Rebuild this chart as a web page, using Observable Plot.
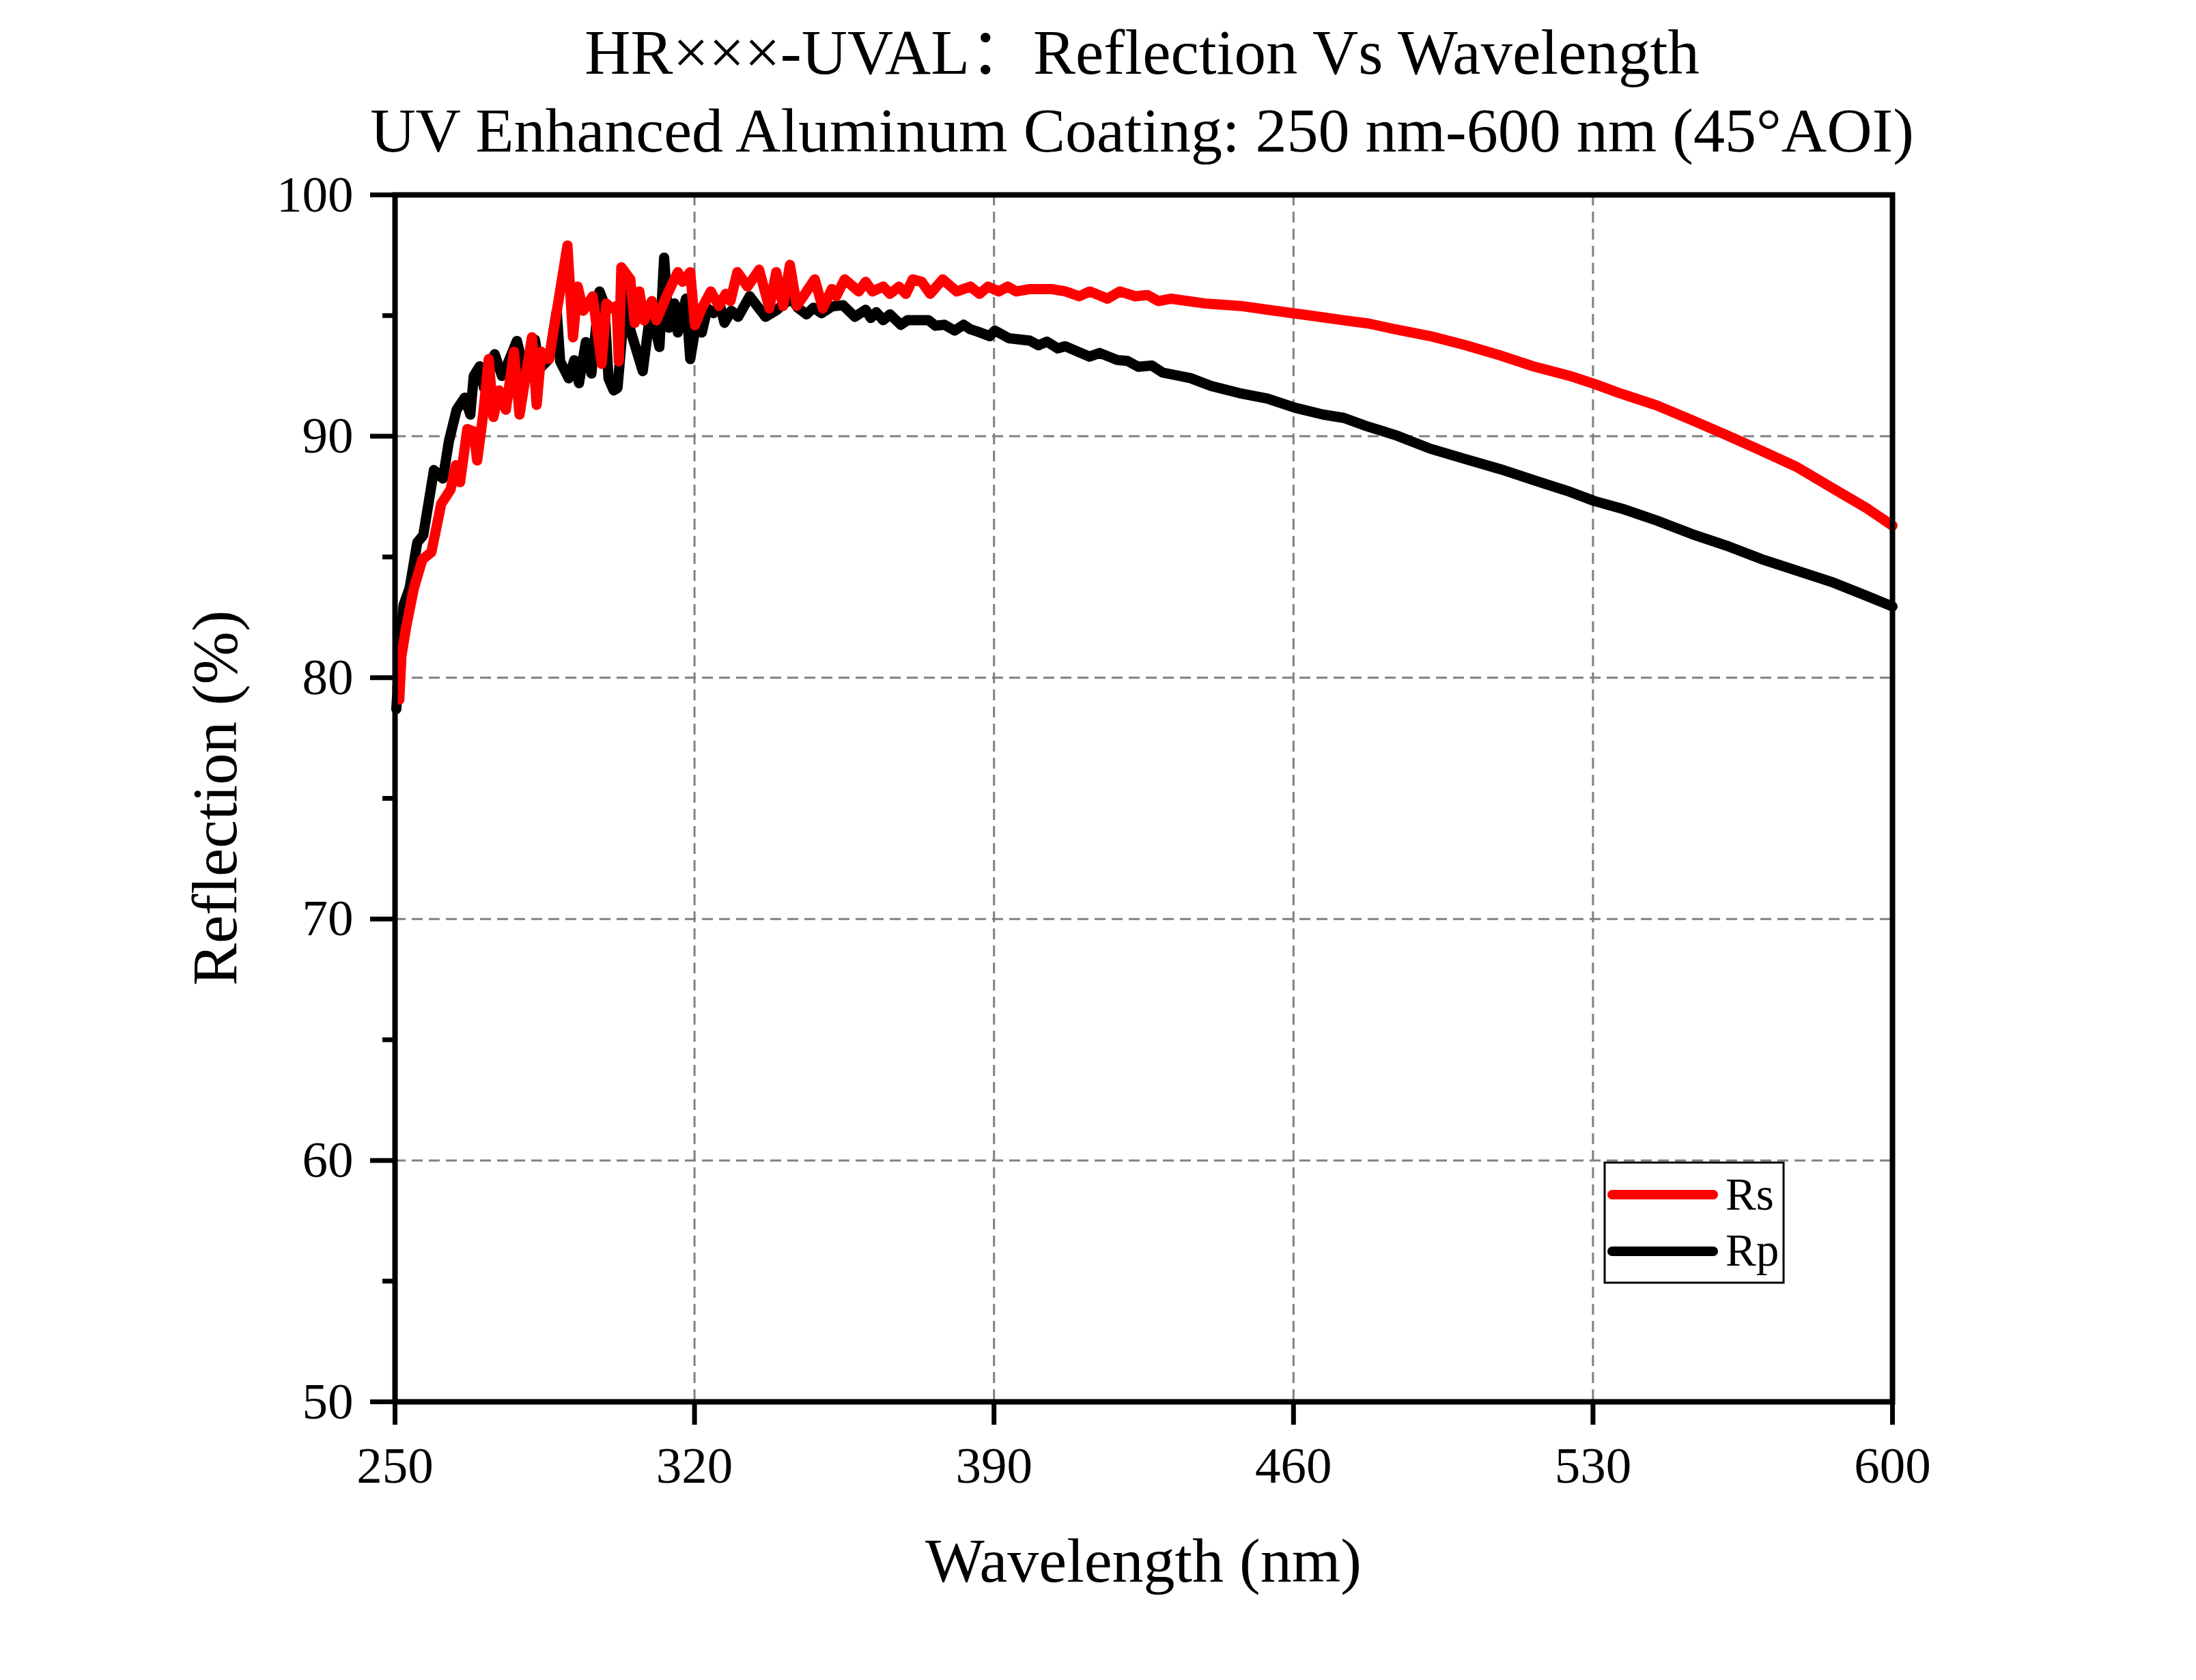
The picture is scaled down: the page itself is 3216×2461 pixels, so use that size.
<!DOCTYPE html>
<html>
<head>
<meta charset="utf-8">
<script src="https://cdn.jsdelivr.net/npm/d3@7"></script>
<script src="https://cdn.jsdelivr.net/npm/@observablehq/plot@0.6"></script>
<style>
  html, body { margin: 0; padding: 0; background: #fff; }
  #chart { width: 3216px; height: 2461px; }
</style>
</head>
<body>
<div id="chart"></div>
<script>
const titleLines = ["HR×××-UVAL：Reflection Vs Wavelength", "UV Enhanced Aluminum Coating: 250 nm-600 nm (45°AOI)"];
const xLabel = "Wavelength (nm)";
const yLabel = "Reflection (%)";
const seriesNames = ["Rs", "Rp"];
const seriesColors = ["#ff0000", "#000000"];
const xTicks = [250, 320, 390, 460, 530, 600];
const yTicks = [50, 60, 70, 80, 90, 100];
const yMinorTicks = [55, 65, 75, 85, 95];
const xGrid = [320, 390, 460, 530];
const yGrid = [60, 70, 80, 90];

const rsWavelength = [250.5,251,251.5,252.6,254.4,256.4,258.5,260.8,263,264.2,265.2,266.9,268.4,269.2,270.6,271.9,273,274.3,275.9,277.8,279.1,282,283.1,284.2,286,290.3,291.6,292.7,294,296.2,298.3,299.4,300.6,301.8,302.3,302.9,305,306,307.1,308.2,310,311.1,313.7,316.1,317.2,319,320.1,321.7,323.8,325.7,327.3,328.4,330,332.4,335.1,337.5,339.1,340.7,342.3,343.9,348.1,350,352.1,353.1,355.1,358.4,360,361.6,364.1,365.7,367.8,369.4,371,373.1,375.1,378,381.3,384.5,386.6,388.6,391.1,393.2,395.2,398.5,403.4,406.7,409.9,412.4,416.5,419.4,423,425.9,428.4,431.3,439.4,447.6,455.7,463.9,472,477.6,483.8,491.9,500.1,508.3,516.4,524.6,530.3,536.8,544.9,553.1,561.2,569.4,577.5,585.7,593.8,600];
const rsReflection = [79.6,79.1,80.9,82.1,83.7,84.9,85.2,87.2,87.8,88.8,88.1,90.3,90.2,89.0,90.9,93.2,90.8,91.9,91.1,93.5,90.9,94.1,91.3,93.5,93.2,97.9,94.1,96.2,95.2,95.8,93.0,95.5,95.3,95.4,93.1,97.0,96.5,94.7,96.0,94.8,95.6,94.8,95.9,96.8,96.4,96.8,94.6,95.3,96.0,95.4,95.9,95.6,96.8,96.2,96.9,95.3,96.8,95.4,97.1,95.4,96.5,95.3,96.1,95.8,96.5,96.0,96.4,96.0,96.2,95.9,96.2,95.9,96.5,96.4,95.9,96.5,96.0,96.2,95.9,96.2,96.0,96.2,96.0,96.1,96.1,96.0,95.8,96.0,95.7,96.0,95.8,95.85,95.6,95.7,95.5,95.4,95.2,95.0,94.8,94.67,94.43,94.15,93.78,93.35,92.88,92.5,92.17,91.75,91.28,90.67,90.05,89.4,88.74,87.88,87.04,86.3];

const rpWavelength = [250.3,250.6,251,252,253.4,255.2,256.6,259.1,261.2,262.6,264.4,266.3,267.6,268.4,269.8,270.8,273.3,275,276.3,278.5,280.3,282.7,283.8,286,287.8,288.6,290.6,291.9,293,294.6,295.9,297.8,298.9,299.9,301.1,302,303.9,305,307.9,309.8,311.8,312.9,314,315.3,316.1,318,319,320.6,321.7,323,324.4,326,327,328.6,330.2,332.9,336.6,339.3,340.9,342.8,344.1,346.2,347.8,349.7,352.1,354.7,357.5,360,361.2,362.5,364.1,365.7,368.2,369.8,374.7,376.3,378.4,380.8,382.9,384.5,386.1,389,390.2,393.5,398.4,400.4,402.4,404.9,406.6,412.3,414.7,418.8,421.2,423.7,426.9,429.4,435.9,440.8,447.3,453.9,460.4,466.9,471.8,477.4,483.8,491.9,500.1,508.3,516.4,524.6,530.3,536.8,544.9,553.1,561.2,569.4,577.5,585.7,593.8,600];
const rpReflection = [78.7,79.5,81.0,83.0,83.7,85.6,85.9,88.6,88.25,89.8,91.1,91.6,90.9,92.5,92.9,92.0,93.4,92.5,93.0,93.95,92.6,94.0,92.8,93.2,95.2,93.1,92.4,93.15,92.2,93.9,92.6,96.0,95.5,92.4,91.9,92.0,95.9,94.4,92.7,95.3,93.7,97.4,94.5,95.5,94.3,95.7,93.2,94.9,94.3,95.3,95.1,95.4,94.7,95.2,94.95,95.8,94.95,95.24,95.5,95.69,95.33,95.05,95.33,95.1,95.38,95.43,94.95,95.24,94.9,95.14,94.81,95.05,94.62,94.81,94.81,94.58,94.62,94.38,94.62,94.43,94.34,94.15,94.38,94.06,93.96,93.77,93.92,93.64,93.73,93.3,93.45,93.16,93.12,92.88,92.93,92.64,92.41,92.08,91.79,91.56,91.18,90.9,90.76,90.4,90.05,89.49,89.06,88.64,88.17,87.7,87.32,87.0,86.51,85.95,85.47,84.91,84.44,83.97,83.4,82.95];

const rsData = rsWavelength.map((w, i) => ({wl: w, r: rsReflection[i]}));
const rpData = rpWavelength.map((w, i) => ({wl: w, r: rpReflection[i]}));

const serif = "'Liberation Serif', 'Times New Roman', 'Noto Sans CJK SC', serif";
const W = 3216, H = 2461;
const mL = 578, mR = 445, mT = 285, mB = 408;

const gridStyle = {stroke: "#808080", strokeOpacity: 1, strokeWidth: 3, strokeDasharray: "16,9"};

const chart = Plot.plot({
  width: W,
  height: H,
  marginLeft: mL, marginRight: mR, marginTop: mT, marginBottom: mB,
  x: {domain: [250, 600]},
  y: {domain: [50, 100]},
  style: {fontFamily: serif, fontSize: "75px", background: "#fff", color: "#000", overflow: "visible"},
  marks: [
    Plot.gridX(xGrid, gridStyle),
    Plot.gridY(yGrid, gridStyle),
    Plot.line(rpData, {x: "wl", y: "r", stroke: seriesColors[1], strokeWidth: 15, strokeLinejoin: "round", strokeLinecap: "round"}),
    Plot.line(rsData, {x: "wl", y: "r", stroke: seriesColors[0], strokeWidth: 15, strokeLinejoin: "round", strokeLinecap: "round"}),
    Plot.frame({stroke: "#000", strokeWidth: 8}),
    Plot.axisX(xTicks, {tickSize: 34, tickPadding: 31, strokeWidth: 7, label: null, fontSize: 75}),
    Plot.axisY(yTicks, {tickSize: 36, tickPadding: 25, strokeWidth: 7, label: null, fontSize: 75}),
    Plot.axisY(yMinorTicks, {tickSize: 18, strokeWidth: 7, label: null, tickFormat: () => ""})
  ]
});

const svg = d3.select(chart);
const cx = mL + (W - mL - mR) / 2;

// titles
const titleBaselines = [108, 222];
const titleSizes = ["93px", "92px"];
titleLines.forEach((t, i) => {
  svg.append("text")
    .attr("x", cx - 2).attr("y", titleBaselines[i])
    .attr("text-anchor", "middle")
    .style("font-family", serif).style("font-size", titleSizes[i]).attr("fill", "#000")
    .text(t);
});

// axis titles
svg.append("text")
  .attr("x", cx).attr("y", 2317)
  .attr("text-anchor", "middle")
  .style("font-family", serif).style("font-size", "92px").attr("fill", "#000")
  .text(xLabel);
svg.append("text")
  .attr("transform", `translate(346, ${mT + (H - mT - mB) / 2}) rotate(-90)`)
  .attr("text-anchor", "middle")
  .style("font-family", serif).style("font-size", "93px").attr("fill", "#000")
  .text(yLabel);

// legend
const lg = svg.append("g");
lg.append("rect").attr("x", 2350).attr("y", 1703).attr("width", 262).attr("height", 176)
  .attr("fill", "#fff").attr("stroke", "#000").attr("stroke-width", 3);
const rowY = [1750, 1833];
const textY = [1772, 1854];
seriesNames.forEach((n, i) => {
  lg.append("line").attr("x1", 2361).attr("x2", 2509).attr("y1", rowY[i]).attr("y2", rowY[i])
    .attr("stroke", seriesColors[i]).attr("stroke-width", 14).attr("stroke-linecap", "round");
  lg.append("text").attr("x", 2527).attr("y", textY[i])
    .attr("text-anchor", "start")
    .style("font-family", serif).style("font-size", "67px").attr("fill", "#000")
    .text(n);
});

document.getElementById("chart").appendChild(chart);
</script>
</body>
</html>
